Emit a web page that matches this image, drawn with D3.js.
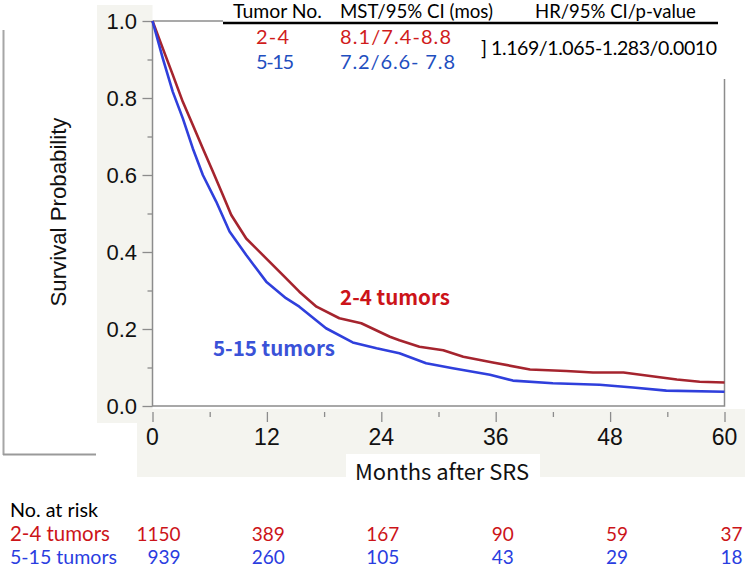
<!DOCTYPE html>
<html>
<head>
<meta charset="utf-8">
<script src="https://cdn.jsdelivr.net/npm/d3@7"></script>
<style>
  html, body { margin: 0; padding: 0; background: #ffffff; }
  svg { display: block; }
</style>
</head>
<body>
<svg id="chart" width="745" height="568"></svg>
<script>
// ---------------- data ----------------
const months24 = [0, 1.08, 2.13, 3.18, 4.23, 5.28, 6.33, 7.38, 8.26, 9.83, 11.58, 13.68, 15.4, 17.2, 19.6, 21.9, 24.9, 25.9, 28.0, 30.5, 32.6, 35.7, 39.6, 43.4, 46.2, 49.4, 52.2, 55.0, 57.4, 60];
const surv24   = [1, 0.929, 0.860, 0.790, 0.730, 0.669, 0.609, 0.548, 0.496, 0.435, 0.392, 0.340, 0.297, 0.258, 0.228, 0.215, 0.180, 0.171, 0.154, 0.145, 0.128, 0.113, 0.095, 0.091, 0.087, 0.087, 0.078, 0.069, 0.063, 0.061];
const months515 = [0, 1.08, 2.13, 3.18, 4.23, 5.28, 6.68, 8.08, 9.83, 11.93, 14.0, 15.4, 18.2, 21.0, 23.5, 25.9, 28.7, 31.5, 35.4, 37.8, 42.0, 46.9, 50.4, 53.9, 60];
const surv515   = [1, 0.903, 0.816, 0.747, 0.669, 0.600, 0.531, 0.453, 0.392, 0.323, 0.280, 0.258, 0.202, 0.165, 0.150, 0.137, 0.111, 0.098, 0.081, 0.066, 0.059, 0.055, 0.048, 0.040, 0.037];

const xTicks = [0, 12, 24, 36, 48, 60];
const yTicks = [0, 0.2, 0.4, 0.6, 0.8, 1.0];
const riskMonths = [0, 12, 24, 36, 48, 60];
const risk24  = [1150, 389, 167, 90, 59, 37];
const risk515 = [939, 260, 105, 43, 29, 18];
const groupLabels = ["2-4 tumors", "5-15 tumors"];
const tableHeader = ["Tumor No.", "MST/95% CI (mos)", "HR/95% CI/p-value"];
const tableGroups = ["2-4", "5-15"];
const tableMST = ["8.1/7.4-8.8", "7.2/6.6- 7.8"];
const tableHR = "] 1.169/1.065-1.283/0.0010";

// ---------------- layout ----------------
const svg = d3.select("#chart");
const L = 152.5, R = 724.5, T = 21, B = 406;
const x = d3.scaleLinear().domain([0, 60]).range([L, R]);
const y = d3.scaleLinear().domain([0, 1]).range([B, T]);

const panel = "#f4f4ef";
const frame = "#8c8c8c";
const red = "#a5242e", blue = "#2f3fdc";
const redText = "#cc1419";

// scale a text's font size so that it spans a given width
function fit(sel, width) {
  sel.each(function () {
    const n = this;
    const fs = parseFloat(n.style.fontSize);
    const w = n.getComputedTextLength();
    if (w > 0) n.style.fontSize = (fs * width / w).toFixed(2) + "px";
  });
  return sel;
}

// background panels
svg.append("rect").attr("x", 97).attr("y", 5).attr("width", L - 97).attr("height", 418).attr("fill", panel);
svg.append("rect").attr("x", 137).attr("y", 409).attr("width", 745 - 137).attr("height", 68).attr("fill", panel);
svg.append("rect").attr("x", 346).attr("y", 454).attr("width", 194).attr("height", 23).attr("fill", "#ffffff");
svg.append("rect").attr("x", L).attr("y", T).attr("width", R - L).attr("height", B - T).attr("fill", "#ffffff");

// y-label box (white with shadow edges)
svg.append("rect").attr("x", 3).attr("y", 30).attr("width", 93).attr("height", 424).attr("fill", "#ffffff");
svg.append("line").attr("x1", 3.5).attr("x2", 3.5).attr("y1", 30).attr("y2", 455).attr("stroke", "#a6a6a6").attr("stroke-width", 2);
svg.append("line").attr("x1", 3).attr("x2", 96).attr("y1", 454.5).attr("y2", 454.5).attr("stroke", "#9a9a9a").attr("stroke-width", 2);

// frame
svg.append("path").attr("d", `M${L},${T} V${B} H${R} V79`).attr("fill", "none").attr("stroke", frame).attr("stroke-width", 1.5);
svg.append("line").attr("x1", L).attr("x2", 223).attr("y1", T).attr("y2", T).attr("stroke", frame).attr("stroke-width", 1.5);

// y axis ticks
const yAxis = d3.axisLeft(y).tickValues(d3.range(0, 1.0001, 0.1)).tickSize(10).tickFormat(() => "");
const gy = svg.append("g").attr("transform", `translate(${L},0)`).call(yAxis);
gy.select(".domain").remove();
gy.selectAll(".tick line").attr("stroke", frame).attr("stroke-width", 1.3)
  .attr("x2", (d) => (Math.round(d * 10) % 2 === 0 ? -10 : -5));
svg.append("g").selectAll("text").data(yTicks).join("text")
  .attr("x", 137).attr("y", (d) => y(d)).attr("dy", "0.36em")
  .attr("text-anchor", "end")
  .style("font-family", "'Liberation Sans', Arial, sans-serif").style("font-size", "22px").attr("fill", "#111")
  .text((d) => d.toFixed(1));

// x axis ticks (below plot, no domain)
const xAxis = d3.axisBottom(x).tickValues(d3.range(0, 60.001, 6)).tickSize(10).tickFormat(() => "");
const gx = svg.append("g").attr("transform", `translate(0,412)`).call(xAxis);
gx.select(".domain").remove();
gx.selectAll(".tick line").attr("stroke", frame).attr("stroke-width", 1.3)
  .attr("y2", (d) => (d % 12 === 0 ? 10 : 5));
svg.append("g").selectAll("text").data(xTicks).join("text")
  .attr("x", (d) => x(d)).attr("y", 445)
  .attr("text-anchor", "middle")
  .style("font-family", "'Liberation Sans', Arial, sans-serif").style("font-size", "23px").attr("fill", "#111")
  .text((d) => d);

// axis titles
fit(svg.append("text").attr("transform", "translate(66,212) rotate(-90)")
  .attr("text-anchor", "middle")
  .style("font-family", "'Liberation Sans', Arial, sans-serif").style("font-size", "20px").attr("fill", "#111")
  .text("Survival Probability"), 189);
fit(svg.append("text").attr("x", 442).attr("y", 480).attr("text-anchor", "middle")
  .style("font-family", "'Noto Sans CJK JP', sans-serif").style("font-size", "21px").attr("fill", "#111")
  .text("Months after SRS"), 174);

// curves
const line = d3.line().x((d) => x(d[0])).y((d) => y(d[1])).curve(d3.curveLinear);
svg.append("path").datum(months24.map((m, i) => [m, surv24[i]]))
  .attr("d", line).attr("fill", "none").attr("stroke", red).attr("stroke-width", 2.6).attr("stroke-linejoin", "round");
svg.append("path").datum(months515.map((m, i) => [m, surv515[i]]))
  .attr("d", line).attr("fill", "none").attr("stroke", blue).attr("stroke-width", 2.6).attr("stroke-linejoin", "round");

// in-plot labels
fit(svg.append("text").attr("x", 340).attr("y", 305)
  .style("font-family", "'Noto Sans CJK JP', sans-serif").style("font-size", "20px").style("font-weight", "bold")
  .attr("fill", redText).text(groupLabels[0]), 110);
fit(svg.append("text").attr("x", 213).attr("y", 356)
  .style("font-family", "'Noto Sans CJK JP', sans-serif").style("font-size", "20px").style("font-weight", "bold")
  .attr("fill", "#3a52d8").text(groupLabels[1]), 122);

// top table
const tf = "Lato, 'Open Sans', sans-serif";
svg.append("line").attr("x1", 223).attr("x2", 718).attr("y1", 23).attr("y2", 23).attr("stroke", "#000").attr("stroke-width", 2.5);
const hdrX = [233, 340, 535];
const hdrW = [89, 153, 161];
svg.append("g").selectAll("text").data(tableHeader).join("text")
  .attr("x", (d, i) => hdrX[i]).attr("y", 18)
  .style("font-family", tf).style("font-size", "18px").attr("fill", "#000").text((d) => d)
  .each(function (d, i) { fit(d3.select(this), hdrW[i]); });
const rowY = [44, 69];
const rowCol = ["#d01c1c", "#1f4fbf"];
const grpW = [33, 38];
const mstW = [111, 115];
svg.append("g").selectAll("text").data(tableGroups).join("text")
  .attr("x", 256).attr("y", (d, i) => rowY[i])
  .style("font-family", tf).style("font-size", "20px").attr("fill", (d, i) => rowCol[i]).text((d) => d)
  .attr("textLength", (d, i) => grpW[i]).attr("lengthAdjust", "spacing");
svg.append("g").selectAll("text").data(tableMST).join("text")
  .attr("x", 340).attr("y", (d, i) => rowY[i])
  .style("font-family", tf).style("font-size", "20px").attr("fill", (d, i) => rowCol[i]).text((d) => d)
  .attr("textLength", (d, i) => mstW[i]).attr("lengthAdjust", "spacing");
svg.append("text").attr("x", 481).attr("y", 55)
  .style("font-family", tf).style("font-size", "19.5px").attr("fill", "#000").text(tableHR)
  .attr("textLength", 236).attr("lengthAdjust", "spacing");

// risk table
const rf = "Lato, 'Open Sans', sans-serif";
const riskBlue = "#2a3de0";
fit(svg.append("text").attr("x", 10).attr("y", 517).style("font-family", rf).style("font-size", "18px").attr("fill", "#000").text("No. at risk"), 88);
fit(svg.append("text").attr("x", 10).attr("y", 541).style("font-family", rf).style("font-size", "18px").attr("fill", redText).text(groupLabels[0]), 100);
fit(svg.append("text").attr("x", 10).attr("y", 564).style("font-family", rf).style("font-size", "18px").attr("fill", riskBlue).text(groupLabels[1]), 107);
const riskX = (m) => x(m) + (m === 0 ? 28 : 18);
svg.append("g").selectAll("text").data(risk24).join("text")
  .attr("x", (d, i) => riskX(riskMonths[i])).attr("y", 541).attr("text-anchor", "end")
  .style("font-family", rf).style("font-size", "19px").attr("fill", redText).text((d) => d);
svg.append("g").selectAll("text").data(risk515).join("text")
  .attr("x", (d, i) => riskX(riskMonths[i])).attr("y", 564).attr("text-anchor", "end")
  .style("font-family", rf).style("font-size", "19px").attr("fill", riskBlue).text((d) => d);
</script>
</body>
</html>
